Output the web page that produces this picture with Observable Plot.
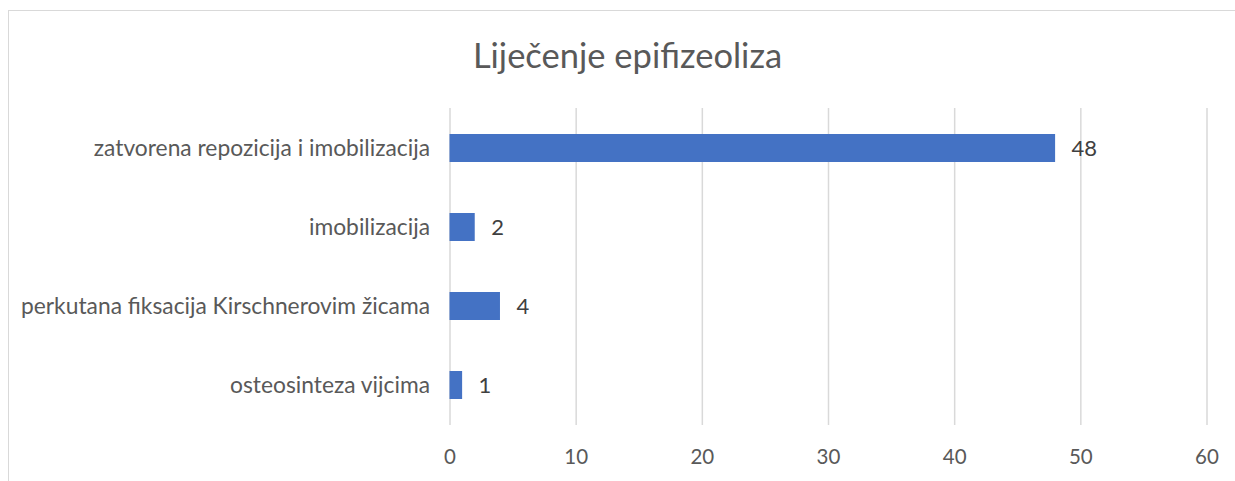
<!DOCTYPE html>
<html><head><meta charset="utf-8">
<script src="https://cdn.jsdelivr.net/npm/d3@7"></script>
<script src="https://cdn.jsdelivr.net/npm/@observablehq/plot@0.6"></script>
<style>
body{margin:0;background:#fff;font-family:Lato,"Open Sans",sans-serif;}
#wrap{position:relative;width:1235px;height:481px;overflow:hidden;}
#frame{position:absolute;left:8px;top:10px;width:1240px;height:500px;border:1px solid #d9d9d9;box-sizing:border-box;}
#title{position:absolute;left:0;top:34px;width:1255px;text-align:center;font-size:34.5px;line-height:41px;color:#595959;}
#chart{position:absolute;left:0;top:0;}
</style></head>
<body><div id="wrap"><div id="frame"></div><div id="title">Liječenje epifizeoliza</div><div id="chart"></div></div>
<script>
const categories = ["zatvorena repozicija i imobilizacija","imobilizacija","perkutana fiksacija Kirschnerovim žicama","osteosinteza vijcima"];
const values = [48, 2, 4, 1];
const xTicks = [0,10,20,30,40,50,60];
const data = categories.map((c,i)=>({cat:c, v:values[i]}));
const plot = Plot.plot({
  width:1235, height:481,
  marginLeft:449.5, marginRight:28.5, marginTop:108, marginBottom:56,
  style:{fontFamily:"Lato, 'Open Sans', sans-serif", fontSize:"20px", color:"#595959", background:"transparent"},
  x:{domain:[0,60], ticks:xTicks, label:null},
  y:{domain:categories, paddingInner:0.647, paddingOuter:0.3235, label:null},
  marks:[
    Plot.gridX(xTicks,{stroke:"#d9d9d9", strokeOpacity:1, strokeWidth:1.5}),
    Plot.barX(data,{x:"v", y:"cat", fill:"#4472c4"}),
    Plot.text(data,{x:"v", y:"cat", text:d=>String(d.v), dx:16, textAnchor:"start", fill:"#404040", fontSize:22}),
    Plot.axisX(xTicks,{tickSize:0, tickPadding:24, fontSize:20.5, fill:"#595959"}),
    Plot.axisY({tickSize:0, tickPadding:20, fontSize:22.8, fill:"#595959"})
  ]
});
document.getElementById("chart").appendChild(plot);
</script></body></html>
